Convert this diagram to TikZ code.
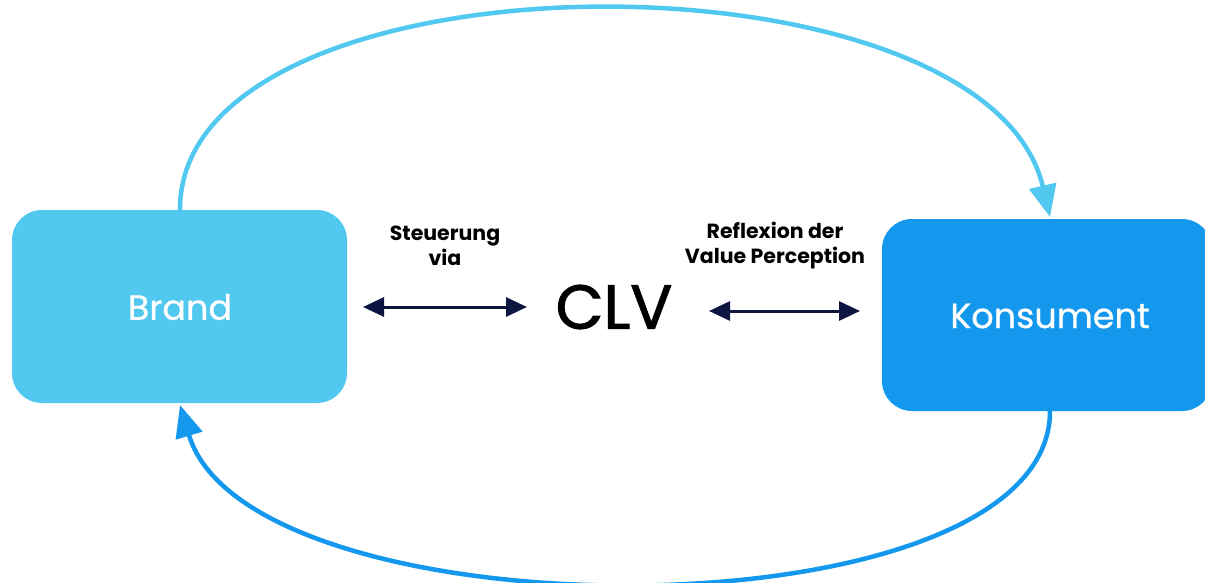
\documentclass[tikz,border=0pt]{standalone}
\usepackage{fontspec}
\setmainfont{Poppins}
\usetikzlibrary{arrows.meta}
\definecolor{lightblue}{HTML}{51C8F0}
\definecolor{darkblue}{HTML}{1398EE}
\definecolor{navy}{HTML}{0D1541}
\tikzset{
  boxtext/.style={text=white, font=\addfontfeature{FakeBold=0.6}\fontsize{35}{40}\selectfont},
  lbl/.style={font=\bfseries\fontsize{20.5}{25}\selectfont, align=center, text=black},
  dbl/.style={navy, line width=3pt, {Triangle[length=21pt,width=19pt]}-{Triangle[length=21pt,width=19pt]}},
  arc/.style={line width=4.5pt, -{Triangle[length=32pt,width=27pt]}}
}
\begin{document}
\begin{tikzpicture}[x=1pt,y=-1pt]
\useasboundingbox (0,0) rectangle (1205,583);
\fill[lightblue, rounded corners=30pt] (12,210) rectangle (347,403);
\fill[darkblue, rounded corners=30pt] (882,219) rectangle (1212,411);
\node[inner sep=0pt, minimum width=335pt, minimum height=193pt, anchor=north west] (brand) at (12,210) {};
\node[inner sep=0pt, minimum width=323pt, minimum height=192pt, anchor=north west] (kons) at (882,219) {};
\node[boxtext] (brandt) at (180,307) {Brand};
\node[boxtext] (konst) at (1050,316) {Konsument};
\node[font=\addfontfeature{FakeBold=1.6}\fontsize{62}{70}\selectfont] (clv) at (614,307) {CLV};
\node[lbl] (steu) at (445,246) {Steuerung\\via};
\node[lbl] (refl) at (775,246) {Reflexion der\\Value Perception};
\coordinate (a1) at (363,307);
\coordinate (a2) at (527,307);
\coordinate (b1) at (709,311);
\coordinate (b2) at (860,311);
\draw[dbl] (a1) -- (a2);
\draw[dbl] (b1) -- (b2);
\coordinate (bt) at (180,212);
\coordinate (kt) at (1050,217);
\coordinate (kb) at (1050,409);
\coordinate (bb) at (180,405);
\draw[arc, lightblue] (bt) .. controls (175,-55) and (985,-60) .. (kt);
\draw[arc, darkblue] (kb) .. controls (1055,640) and (250,640) .. (bb);
\end{tikzpicture}
\end{document}
